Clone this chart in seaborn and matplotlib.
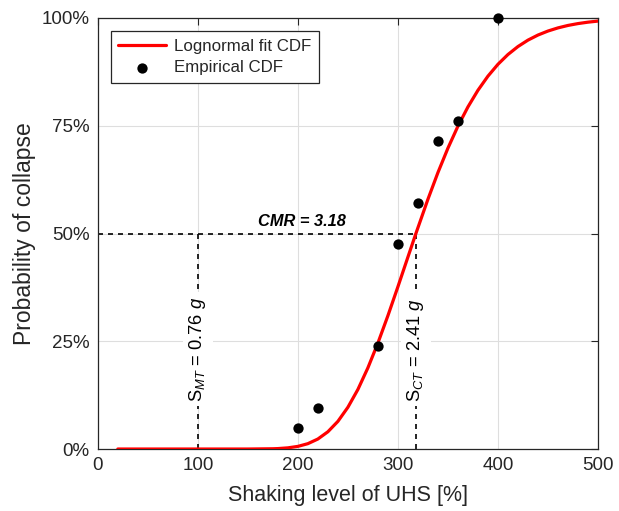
import numpy as np
import pandas as pd
import matplotlib
matplotlib.use("Agg")
import matplotlib.pyplot as plt
import seaborn as sns
from matplotlib.ticker import FuncFormatter

# --- Data ---
fit_level = [20, 50, 100, 150, 175, 180, 190, 200, 210, 220, 230, 240, 250, 260, 270, 280, 290,
             300, 310, 318, 330, 340, 350, 360, 370, 380, 390, 400, 410, 420, 430, 440, 450,
             460, 470, 480, 490, 500]
fit_prob = [0.0, 0.0, 0.0, 0.0, 0.06, 0.1, 0.27, 0.61, 1.24, 2.32, 4.0, 6.41, 9.68, 13.81, 18.83,
            24.58, 30.92, 37.64, 44.52, 50.0, 57.93, 64.12, 69.79, 74.89, 79.36, 83.22, 86.5,
            89.25, 91.52, 93.37, 94.86, 96.04, 96.97, 97.7, 98.27, 98.7, 99.03, 99.28]

emp_level = [200, 220, 280, 300, 320, 340, 360, 400]
emp_prob = [4.76, 9.52, 23.81, 47.62, 57.14, 71.43, 76.19, 100.0]

median_level = 318
mce_level = 100
cmr_label = "CMR = 3.18"
smt_label = r"S$_{\mathit{MT}}$ = 0.76 $\mathit{g}$"
sct_label = r"S$_{\mathit{CT}}$ = 2.41 $\mathit{g}$"

x_ticks = [0, 100, 200, 300, 400, 500]
y_ticks = [0, 25, 50, 75, 100]

fit_df = pd.DataFrame({"level": fit_level, "prob": fit_prob})
emp_df = pd.DataFrame({"level": emp_level, "prob": emp_prob})

sns.set_style("white")
plt.rcParams["font.family"] = ["Liberation Sans", "DejaVu Sans"]
plt.rcParams["mathtext.fontset"] = "custom"
plt.rcParams["mathtext.rm"] = "Liberation Sans"
plt.rcParams["mathtext.it"] = "Liberation Sans:italic"
plt.rcParams["mathtext.bf"] = "Liberation Sans:bold"

text_col = "#262626"

fig = plt.figure(figsize=(6.19, 5.11), dpi=100)
ax = fig.add_axes([0.158, 0.1213, 0.808, 0.8435])

# grid
ax.grid(True, color="#dedede", linewidth=0.8)
ax.set_axisbelow(True)

# reference dashed lines
ax.plot([0, median_level], [50, 50], color="black", ls=(0, (3, 3)), lw=1.2, zorder=2)
ax.plot([mce_level, mce_level], [0, 50], color="black", ls=(0, (3, 3)), lw=1.2, zorder=2)
ax.plot([median_level, median_level], [0, 50], color="black", ls=(0, (3, 3)), lw=1.2, zorder=2)

# curve and points
sns.lineplot(data=fit_df, x="level", y="prob", color="#ff0000", linewidth=2.3,
             label="Lognormal fit CDF", ax=ax, zorder=4)
sns.scatterplot(data=emp_df, x="level", y="prob", color="black", s=55, edgecolor="black",
                linewidth=0, label="Empirical CDF", ax=ax, zorder=5, clip_on=False)

# annotations
ax.text(204, 52.7, cmr_label, ha="center", va="center", fontsize=11.8,
        fontweight="bold", fontstyle="italic", color="black", zorder=6)
box = dict(facecolor="white", edgecolor="none", pad=3)
ax.text(mce_level, 23.2, smt_label, rotation=90, ha="center", va="center",
        fontsize=13.2, color="black", bbox=box, zorder=3)
ax.text(median_level, 23.0, sct_label, rotation=90, ha="center", va="center",
        fontsize=13.2, color="black", bbox=box, zorder=3)

ax.set_xlim(0, 500)
ax.set_ylim(0, 100)
ax.set_xticks(x_ticks)
ax.set_yticks(y_ticks)
ax.yaxis.set_major_formatter(FuncFormatter(lambda v, p: f"{v:.0f}%"))
ax.tick_params(direction="in", length=5, width=0.8, colors=text_col, labelsize=13.5,
               top=True, right=True, pad=6)
for s in ax.spines.values():
    s.set_color(text_col)
    s.set_linewidth(0.9)

ax.set_xlabel("Shaking level of UHS [%]", fontsize=15.5, color=text_col, labelpad=8)
ax.set_ylabel("Probability of collapse", fontsize=16.5, color=text_col, labelpad=4)

leg = ax.legend(loc="upper left", bbox_to_anchor=(0.026, 0.97), fontsize=12.2,
                frameon=True, fancybox=False, edgecolor=text_col, framealpha=1,
                handlelength=2.8, borderpad=0.45, labelspacing=0.4, handletextpad=0.5,
                borderaxespad=0)
leg.get_frame().set_linewidth(0.9)

fig.savefig("out.png", dpi=100)
